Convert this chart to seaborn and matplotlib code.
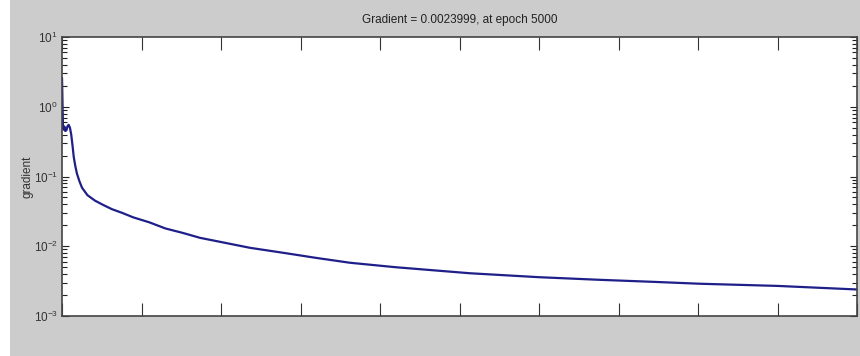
import numpy as np
import pandas as pd
import matplotlib
matplotlib.use("Agg")
import matplotlib.pyplot as plt
import seaborn as sns
from matplotlib.patches import Rectangle
from matplotlib.ticker import LogLocator, LogFormatterSciNotation, MultipleLocator, NullFormatter

# Training gradient history
epochs = [0, 2, 4, 6, 10, 15, 20, 28, 35, 42, 50, 58, 66, 74, 84, 94, 110, 126, 160,
          208, 260, 314, 380, 447, 550, 650, 761, 868, 1000, 1182, 1400, 1600,
          1811, 2100, 2566, 3000, 3384, 3700, 4013, 4500, 5000]
gradient = [2.6, 1.6, 0.9, 0.55, 0.47, 0.52, 0.45, 0.46, 0.53, 0.55, 0.5, 0.4,
            0.28, 0.19, 0.14, 0.11, 0.085, 0.069, 0.054, 0.045, 0.039, 0.034,
            0.030, 0.026, 0.022, 0.018, 0.0155, 0.0132, 0.0115, 0.0095, 0.0080,
            0.0068, 0.0058, 0.0050, 0.0041, 0.0036, 0.0033, 0.0031, 0.0029,
            0.0027, 0.0023999]
final_epoch = 5000
final_gradient = 0.0023999

sns.set_theme(style="white")
plt.rcParams["font.family"] = ["Liberation Sans", "DejaVu Sans"]
plt.rcParams["mathtext.fontset"] = "custom"
plt.rcParams["mathtext.rm"] = "Liberation Sans"
plt.rcParams["mathtext.it"] = "Liberation Sans"
plt.rcParams["mathtext.default"] = "regular"
plt.rcParams["axes.unicode_minus"] = False

df = pd.DataFrame({"epoch": epochs, "gradient": gradient})

fig = plt.figure(figsize=(8.6, 3.56), dpi=100, facecolor="#cccccc")
fig.patches.append(Rectangle((0, 0), 10 / 860, 1, transform=fig.transFigure,
                             facecolor="white", edgecolor="none", zorder=-1))
ax = fig.add_axes([62 / 860, 40 / 356, 795 / 860, 279 / 356])
ax.set_facecolor("white")

sns.lineplot(data=df, x="epoch", y="gradient", ax=ax, color="#1f1f8a",
             linewidth=1.6, estimator=None, sort=False)

ax.set_yscale("log")
ax.set_xlim(0, final_epoch)
ax.set_ylim(1e-3, 1e1)

ax.xaxis.set_major_locator(MultipleLocator(500))
ax.xaxis.set_major_formatter(NullFormatter())
ax.yaxis.set_major_locator(LogLocator(base=10, numticks=10))
ax.yaxis.set_major_formatter(LogFormatterSciNotation())
ax.yaxis.set_minor_locator(LogLocator(base=10, subs=np.arange(2, 10), numticks=20))
ax.yaxis.set_minor_formatter(NullFormatter())

ax.tick_params(axis="x", which="major", direction="in", length=9.5, width=0.8,
               color="#333333", top=True, bottom=True, labelbottom=False)
ax.tick_params(axis="y", which="major", direction="in", length=5, width=0.8,
               color="#222222", left=True, right=True, labelsize=8.5,
               labelcolor="#333333", pad=3)
ax.tick_params(axis="y", which="minor", direction="in", length=3.5, width=0.8,
               color="#222222", left=True, right=True)

for side in ["left", "right", "top", "bottom"]:
    ax.spines[side].set_visible(True)
    ax.spines[side].set_color("#444444")
    ax.spines[side].set_linewidth(1.2)

ax.set_xlabel("")
ax.set_ylabel("gradient", fontsize=8.5, color="#333333")
ax.yaxis.set_label_coords(-0.036, 0.5)
ax.set_title(f"Gradient = {final_gradient}, at epoch {final_epoch}",
             fontsize=8.5, color="#222222", pad=10)

fig.savefig("out.png", dpi=100, facecolor=fig.get_facecolor())
